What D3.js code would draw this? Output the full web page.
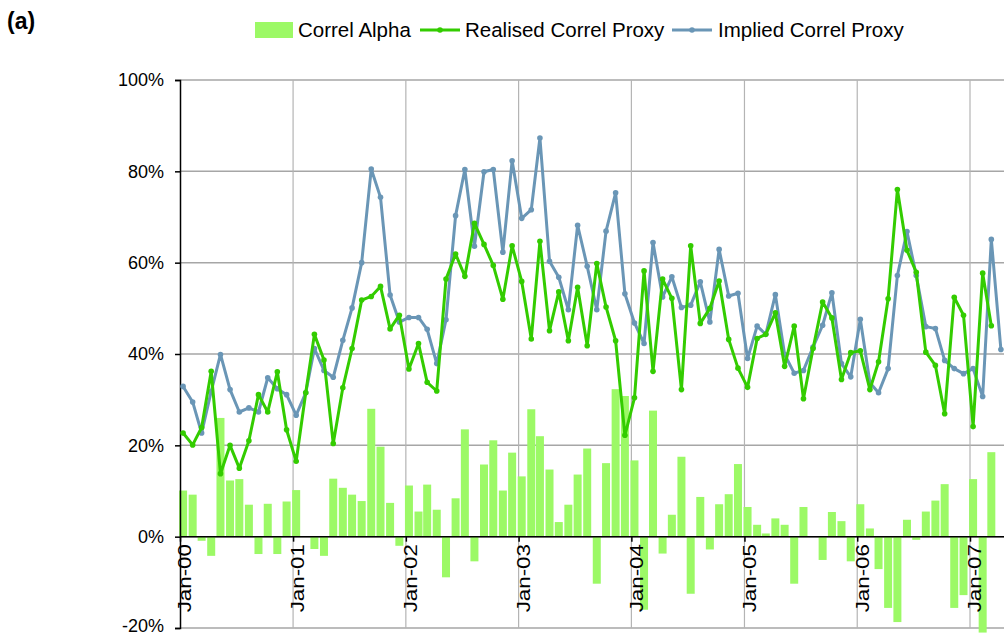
<!DOCTYPE html>
<html>
<head>
<meta charset="utf-8">
<script src="https://cdn.jsdelivr.net/npm/d3@7"></script>
<style>
  body { margin: 0; background: #fff; }
  svg text { font-family: "Liberation Sans", Arial, sans-serif; fill: #000; }
</style>
</head>
<body>
<svg id="chart"></svg>
<script>
// monthly observations, starting Jan-00
var startMonth = new Date(2000, 0, 11);

// Correl Alpha (bars), %
var alpha = [10.1, 9.2, -0.9, -4.2, 26.0, 12.3, 12.6, 7.0, -3.8, 7.2, -3.8, 7.7,
  10.2, 0.0, -2.7, -4.2, 12.7, 10.7, 9.2, 7.8, 28.0, 19.7, 7.4, -2.0,
  11.2, 5.5, 11.4, 5.9, -8.9, 8.4, 23.5, -5.4, 15.8, 21.1, 10.1, 18.4,
  13.2, 27.9, 22.0, 14.7, 3.2, 7.0, 13.6, 19.3, -10.3, 16.1, 32.3, 30.8,
  16.7, -16.0, 27.6, -3.7, 4.8, 17.5, -12.5, 8.7, -2.8, 7.1, 9.3, 15.9,
  6.5, 2.6, 0.7, 4.0, 2.6, -10.3, 6.5, 0.1, -5.1, 5.4, 3.4, -5.4,
  7.1, 1.8, -7.1, -15.6, -18.7, 3.7, -0.7, 5.5, 7.9, 11.5, -15.6, -12.8,
  12.6, -21.0, 18.5];

// Realised Correl Proxy, %
var realised = [22.7, 20.1, 23.9, 36.2, 13.8, 20.0, 15.0, 21.0, 31.1, 27.3, 36.1, 23.4,
  16.5, 31.5, 44.3, 38.7, 20.4, 32.6, 41.2, 51.8, 52.6, 54.8, 45.5, 48.5,
  36.7, 42.3, 33.8, 31.9, 56.4, 61.9, 57.0, 68.6, 64.0, 59.4, 52.0, 63.7,
  55.9, 43.3, 64.7, 45.1, 53.6, 42.9, 54.6, 41.8, 59.8, 50.3, 42.9, 22.2,
  30.4, 58.2, 36.2, 56.4, 52.2, 32.2, 63.7, 46.7, 50.0, 56.0, 43.2, 36.9,
  32.7, 43.4, 44.3, 49.0, 37.3, 46.1, 30.2, 41.2, 51.4, 47.9, 34.4, 40.3,
  40.7, 32.2, 38.3, 52.1, 76.0, 62.7, 57.9, 40.4, 37.5, 26.9, 52.4, 48.5,
  24.1, 57.7, 46.2];

// Implied Correl Proxy, %
var implied = [32.9, 29.5, 22.7, 31.8, 39.9, 32.2, 27.3, 28.2, 27.3, 34.8, 32.4, 31.1,
  26.6, 31.5, 41.2, 36.4, 34.9, 43.0, 50.1, 60.0, 80.5, 74.3, 52.9, 47.0,
  48.0, 48.0, 45.4, 37.9, 47.5, 70.3, 80.4, 63.6, 79.9, 80.4, 62.3, 82.3,
  69.7, 71.6, 87.3, 60.3, 56.8, 49.7, 68.2, 59.2, 49.7, 66.9, 75.3, 53.2,
  46.8, 42.3, 64.4, 52.5, 56.9, 50.2, 50.7, 55.8, 47.0, 62.9, 52.7, 53.3,
  39.0, 46.1, 44.3, 53.0, 39.9, 35.8, 36.4, 41.5, 46.3, 53.4, 37.9, 35.0,
  47.6, 33.7, 31.5, 36.8, 57.2, 66.8, 57.2, 46.0, 45.6, 38.6, 36.8, 35.7,
  36.8, 30.7, 65.1, 41.0];

var yTicks = [-20, 0, 20, 40, 60, 80, 100];
var seriesNames = ["Correl Alpha", "Realised Correl Proxy", "Implied Correl Proxy"];
var colors = { bar: "#9CF966", realised: "#33CC00", implied: "#6A96B6" };

var width = 1004, height = 634;
var plot = { left: 180, top: 80, bottom: 628 };

var svg = d3.select("#chart").attr("width", width).attr("height", height);

function monthDate(i) { return d3.timeMonth.offset(startMonth, i); }

var x = d3.scaleTime()
  .domain([new Date(2000, 0, 1), new Date(2007, 0, 1)])
  .range([plot.left, 970]);
var y = d3.scaleLinear().domain([-20, 100]).range([plot.bottom, plot.top]);

var yearTicks = d3.timeYear.range(new Date(2000, 0, 1), new Date(2007, 1, 1));

// gridlines
svg.append("g").selectAll("line.h")
  .data(yTicks).enter().append("line")
  .attr("x1", plot.left).attr("x2", width)
  .attr("y1", function(d) { return y(d); }).attr("y2", function(d) { return y(d); })
  .attr("stroke", "#a6a6a6").attr("stroke-width", 1.5);

svg.append("g").selectAll("line.v")
  .data(yearTicks.slice(1)).enter().append("line")
  .attr("x1", function(d) { return x(d); }).attr("x2", function(d) { return x(d); })
  .attr("y1", plot.top).attr("y2", plot.bottom)
  .attr("stroke", "#b4b4b4").attr("stroke-width", 1.2);

// bars
svg.append("g").selectAll("rect")
  .data(alpha).enter().append("rect")
  .attr("x", function(d, i) { return x(monthDate(i)) - 4; })
  .attr("width", 8)
  .attr("y", function(d) { return y(Math.max(0, d)); })
  .attr("height", function(d) { return Math.abs(y(d) - y(0)); })
  .attr("fill", colors.bar);

// y axis
var yAxis = svg.append("g")
  .attr("transform", "translate(" + plot.left + ",0)")
  .call(d3.axisLeft(y).tickValues(yTicks).tickSize(5).tickPadding(11)
    .tickFormat(function(d) { return d + "%"; }));
yAxis.select(".domain").attr("stroke", "#000").attr("stroke-width", 1.5);
yAxis.selectAll(".tick line").attr("stroke", "#000").attr("stroke-width", 1.5);
yAxis.selectAll("text").style("font-size", "18px");
yAxis.selectAll(".tick").filter(function(d) { return d === -20; })
  .select("text").attr("dy", "0.2em");

// x axis at 0%
var xAxis = svg.append("g")
  .attr("transform", "translate(0," + y(0) + ")")
  .call(d3.axisBottom(x).tickValues(yearTicks).tickSize(5).tickSizeOuter(0)
    .tickFormat(d3.timeFormat("Jan-%y")));
xAxis.select(".domain").attr("stroke", "#000").attr("stroke-width", 1.5)
  .attr("d", "M" + plot.left + ",0H" + width);
xAxis.selectAll(".tick line").attr("stroke", "#000").attr("stroke-width", 1.5);
xAxis.selectAll("text")
  .style("font-size", "18px")
  .style("text-anchor", "end")
  .attr("x", -6).attr("y", 4.5).attr("dy", "0.35em")
  .attr("transform", "rotate(-90) scale(1.24,1)");

// lines
var line = d3.line()
  .x(function(d, i) { return x(monthDate(i)); })
  .y(function(d) { return y(d); });

[["implied", implied], ["realised", realised]].forEach(function(s) {
  var g = svg.append("g");
  g.append("path").datum(s[1])
    .attr("d", line).attr("fill", "none")
    .attr("stroke", colors[s[0]]).attr("stroke-width", 3)
    .attr("stroke-linejoin", "round");
  g.selectAll("circle").data(s[1]).enter().append("circle")
    .attr("cx", function(d, i) { return x(monthDate(i)); })
    .attr("cy", function(d) { return y(d); })
    .attr("r", 2.8).attr("fill", colors[s[0]]);
});

// panel label
svg.append("text").attr("x", 7).attr("y", 29)
  .style("font-size", "23px").style("font-weight", "bold").text("(a)");

// legend
var legend = svg.append("g").attr("transform", "translate(0,30)");
legend.append("rect").attr("x", 255).attr("y", -8).attr("width", 38).attr("height", 16)
  .attr("fill", colors.bar);
legend.append("text").attr("x", 298).attr("y", 7).style("font-size", "20.5px").text(seriesNames[0]);

[[420, 465, "realised", seriesNames[1]], [672, 718, "implied", seriesNames[2]]].forEach(function(l) {
  legend.append("line").attr("x1", l[0]).attr("x2", l[0] + 40)
    .attr("y1", 0).attr("y2", 0)
    .attr("stroke", colors[l[2]]).attr("stroke-width", 3);
  legend.append("circle").attr("cx", l[0] + 20).attr("cy", 0).attr("r", 2.8)
    .attr("fill", colors[l[2]]);
  legend.append("text").attr("x", l[1]).attr("y", 7).style("font-size", "20.5px").text(l[3]);
});
</script>
</body>
</html>
